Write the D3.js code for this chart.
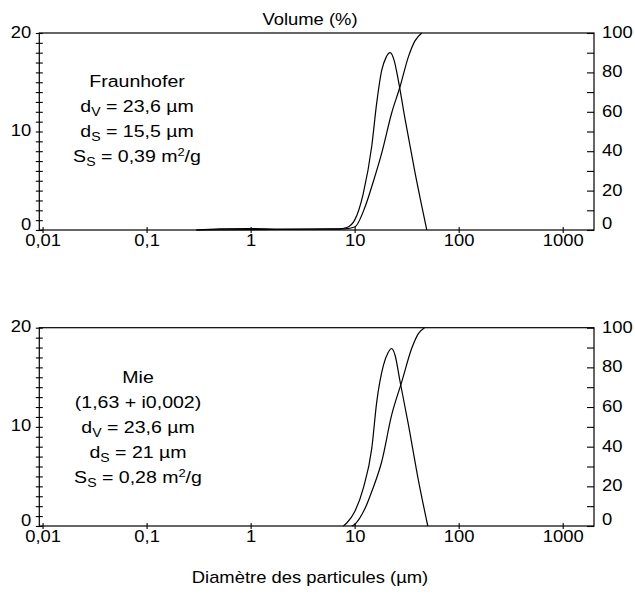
<!DOCTYPE html>
<html>
<head>
<meta charset="utf-8">
<script src="https://cdn.jsdelivr.net/npm/d3@7"></script>
<style>
  html, body { margin: 0; padding: 0; background: #fff; }
  svg { display: block; }
  text { font-family: "Liberation Sans", Arial, Helvetica, sans-serif; fill: #000; }
</style>
</head>
<body>
<div id="chart"></div>
<script>
// ---------- DATA ----------
const xTickValues = [0.01, 0.1, 1, 10, 100, 1000];
const xTickLabels = ["0,01", "0,1", "1", "10", "100", "1000"];
const leftTickLabels = [0, 10, 20];
const rightTickLabels = [0, 20, 40, 60, 80, 100];

// Panel 1 : Fraunhofer
const fraunFreqDiam = [0.3, 0.5, 1, 2, 4, 7, 8.4, 10, 12.1, 14.6, 16.3, 18.2, 20, 21.9, 24, 26.3, 30.6, 38.1, 49.4];
const fraunFreqVal  = [0, 0.12, 0.15, 0.1, 0.1, 0.12, 0.25, 1.0, 3.7, 8.5, 12.9, 16.2, 17.5, 18.0, 17.2, 15.2, 11.2, 5.8, 0];
const fraunCumDiam  = [0.3, 1, 5, 8, 10, 12.6, 15, 18.2, 22.7, 27.3, 32.9, 38, 44.2];
const fraunCumVal   = [0, 0.2, 0.4, 0.6, 1.5, 11.8, 24, 39, 59.4, 72.7, 88, 96, 100];
const fraunText = ["Fraunhofer", "dV = 23,6 µm", "dS = 15,5 µm", "SS = 0,39 m2/g"];

// Panel 2 : Mie
const mieFreqDiam = [7.8, 8.4, 10, 12.1, 14.6, 16.3, 18.9, 21, 22.7, 24.5, 27.3, 32.9, 41.2, 50.5];
const mieFreqVal  = [0, 0.3, 1.44, 3.8, 7.8, 12.5, 16.2, 17.5, 17.9, 17.2, 14.6, 10.2, 4.5, 0];
const mieCumDiam  = [9.4, 10, 12.6, 15, 18.2, 22.7, 28.4, 35.4, 41, 47];
const mieCumVal   = [0, 0.8, 8.9, 19, 32.4, 56, 72.8, 89.6, 97, 100];
const mieText = ["Mie", "(1,63 + i0,002)", "dV = 23,6 µm", "dS = 21 µm", "SS = 0,28 m2/g"];

const topTitle = "Volume (%)";
const xTitle = "Diamètre des particules (µm)";

// ---------- LAYOUT ----------
const W = 635, H = 594;
const SX = 1.15; // horizontal stretch of the original typeface
const left = 39.3, right = 594;
const panels = [
  { top: 33, bottom: 230, freqD: fraunFreqDiam, freqV: fraunFreqVal, cumD: fraunCumDiam, cumV: fraunCumVal,
    text: fraunText, textX: 137, textY0: 87 },
  { top: 327.7, bottom: 526, freqD: mieFreqDiam, freqV: mieFreqVal, cumD: mieCumDiam, cumV: mieCumVal,
    text: mieText, textX: 138, textY0: 383 }
];
const lineGap = 25;

const svg = d3.select("#chart").append("svg").attr("width", W).attr("height", H);

const x = d3.scaleLog().domain([0.0093, 2000]).range([left, right]);

function stretchText(sel) {
  // sel: selection of text elements already positioned via x,y -> convert to transform
  sel.each(function () {
    const t = d3.select(this);
    const tx = +t.attr("x") || 0, ty = +t.attr("y") || 0;
    t.attr("x", 0).attr("y", 0).attr("transform", `translate(${tx},${ty}) scale(${SX},1)`);
  });
}

// rich label : "dV" -> d + subscript V ; "m2" -> superscript
function richLine(g, str, cx, cy, size) {
  const t = g.append("text").attr("text-anchor", "middle").attr("font-size", size)
    .attr("transform", `translate(${cx},${cy}) scale(${SX},1)`);
  let m;
  if ((m = str.match(/^([dS])([VS])( = .*)$/))) {
    let rest = m[3];
    t.append("tspan").text(m[1]);
    t.append("tspan").attr("font-size", size * 0.72).attr("dy", 4).text(m[2]);
    const sup = rest.match(/^(.*m)2(\/g)$/);
    if (sup) {
      t.append("tspan").attr("dy", -4).text(sup[1]);
      t.append("tspan").attr("font-size", size * 0.66).attr("dy", -6).text("2");
      t.append("tspan").attr("dy", 6).text(sup[2]);
    } else {
      t.append("tspan").attr("dy", -4).text(rest);
    }
  } else {
    t.text(str);
  }
}

panels.forEach((p) => {
  const g = svg.append("g");
  const yL = d3.scaleLinear().domain([0, 20]).range([p.bottom, p.top]);
  const yR = d3.scaleLinear().domain([0, 100]).range([p.bottom, p.top]);

  // frame
  g.append("rect").attr("x", left).attr("y", p.top).attr("width", right - left).attr("height", p.bottom - p.top)
    .attr("fill", "none").attr("stroke", "#000").attr("stroke-width", 1.2);

  // bottom axis
  const ax = g.append("g").attr("transform", `translate(0,${p.bottom})`)
    .call(d3.axisBottom(x).tickValues(xTickValues).tickSize(3).tickFormat((d, i) => xTickLabels[i]));
  ax.select(".domain").remove();
  ax.selectAll(".tick line").attr("y1", -3).attr("y2", 3).attr("stroke-width", 1.1);
  ax.selectAll(".tick text").attr("font-size", 16).attr("font-family", null).attr("dy", null).attr("y", 16)
    .attr("transform", `scale(${SX},1)`);

  // left axis (ticks crossing)
  const al = g.append("g").attr("transform", `translate(${left},0)`)
    .call(d3.axisLeft(yL).tickValues(d3.range(0, 21, 1)).tickSize(3.5)
      .tickFormat(d => leftTickLabels.includes(d) ? String(d) : ""));
  al.select(".domain").remove();
  al.selectAll(".tick line").attr("x1", -3.5).attr("x2", 3.5).attr("stroke-width", 1.1);
  al.selectAll(".tick text").attr("font-size", 16).attr("font-family", null).attr("dy", null)
    .attr("x", 0).attr("text-anchor", "end")
    .attr("transform", function (d) {
      const off = Math.min(4, p.bottom - yL(d) - 1);
      return `translate(-8,${off}) scale(${SX},1)`;
    });

  // right axis (inward ticks)
  const ar = g.append("g").attr("transform", `translate(${right},0)`)
    .call(d3.axisRight(yR).tickValues(d3.range(0, 101, 10)).tickSize(0)
      .tickFormat(d => rightTickLabels.includes(d) ? String(d) : ""));
  ar.select(".domain").remove();
  ar.selectAll(".tick line").attr("x1", -7).attr("x2", 0).attr("stroke-width", 1.1);
  ar.selectAll(".tick text").attr("font-size", 16).attr("font-family", null).attr("dy", null)
    .attr("x", 0).attr("text-anchor", "start")
    .attr("transform", function (d) {
      const off = Math.min(4.5, p.bottom - yR(d) - 2);
      return `translate(8,${off}) scale(${SX},1)`;
    });

  // curves
  const freq = p.freqD.map((d, i) => [d, p.freqV[i]]);
  const cum = p.cumD.map((d, i) => [d, p.cumV[i]]);
  const lf = d3.line().x(d => x(d[0])).y(d => yL(d[1])).curve(d3.curveMonotoneX);
  const lc = d3.line().x(d => x(d[0])).y(d => yR(d[1])).curve(d3.curveMonotoneX);
  g.append("path").attr("d", lf(freq)).attr("fill", "none").attr("stroke", "#000").attr("stroke-width", 1.2);
  g.append("path").attr("d", lc(cum)).attr("fill", "none").attr("stroke", "#000").attr("stroke-width", 1.2);

  // annotation
  p.text.forEach((s, i) => richLine(g, s, p.textX, p.textY0 + i * lineGap, 17));
});

// titles
svg.append("text").attr("text-anchor", "middle").attr("font-size", 16)
  .attr("transform", `translate(310,25) scale(${SX},1)`).text(topTitle);
svg.append("text").attr("text-anchor", "middle").attr("font-size", 16)
  .attr("transform", `translate(310,583) scale(${SX},1)`).text(xTitle);
</script>
</body>
</html>
